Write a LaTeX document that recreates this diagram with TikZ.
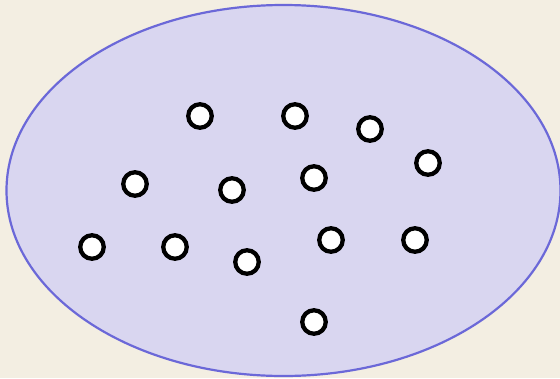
\documentclass[tikz,border=0pt]{standalone}
\usetikzlibrary{shapes.geometric}
\definecolor{bg}{HTML}{F3EEE2}
\definecolor{efill}{HTML}{D9D6F0}
\definecolor{edraw}{HTML}{6B68D8}
\begin{document}
\begin{tikzpicture}[x=1pt,y=-1pt,
  dot/.style={circle,draw=black,fill=white,line width=4.3pt,minimum size=23.5pt,inner sep=0pt}]
\fill[bg] (0,0) rectangle (560,378);
\useasboundingbox (0,0) rectangle (560,378);
\node[ellipse,draw=edraw,fill=efill,line width=2.2pt,minimum width=554pt,minimum height=371pt,inner sep=0pt] (e) at (283.5,190.5) {};
\node[dot] (n1) at (200,116) {};
\node[dot] (n2) at (295,116) {};
\node[dot] (n3) at (370,129) {};
\node[dot] (n4) at (428,163) {};
\node[dot] (n5) at (135,184) {};
\node[dot] (n6) at (232,190) {};
\node[dot] (n7) at (314,178) {};
\node[dot] (n8) at (92,247) {};
\node[dot] (n9) at (175,247) {};
\node[dot] (n10) at (247,262) {};
\node[dot] (n11) at (331,240) {};
\node[dot] (n12) at (415,240) {};
\node[dot] (n13) at (314,322) {};
\end{tikzpicture}
\end{document}
